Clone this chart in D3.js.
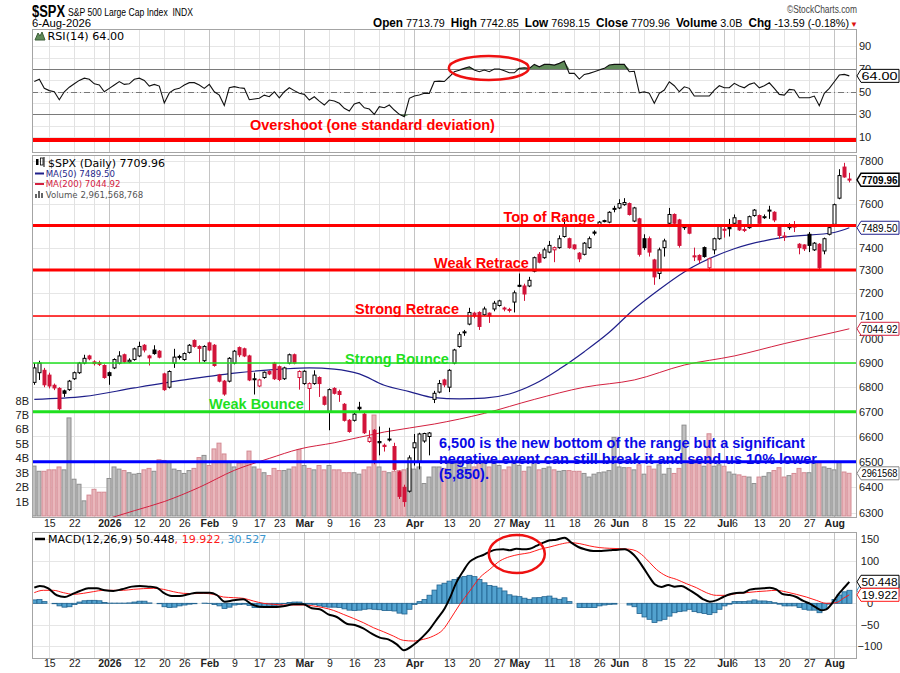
<!DOCTYPE html>
<html>
<head>
<meta charset="utf-8">
<title>$SPX daily</title>
<script src="https://cdn.jsdelivr.net/npm/d3@7/dist/d3.min.js"></script>
<style>
  body { margin: 0; background: #fff; }
  svg { display: block; }
</style>
</head>
<body>
<svg id="chart" width="900" height="673"></svg>
<script>
// ---- data ----
var holidays = ['2025-12-25', '2026-01-01', '2026-01-19', '2026-02-16', '2026-04-03', '2026-05-25', '2026-06-19', '2026-07-03'];

var opens = [6820,6860,6870,6850,6808,6795,6785,6790,6835,6860,
  6900,6930,6905,6902,6890,6860,6880,6900,6935,6905,
  6915,6930,6975,6930,6955,6950,6855,6800,6900,6925,
  6915,6945,6995,6970,6910,6985,6975,6850,6825,6825,
  6900,6965,6960,6930,6832,6805,6840,6865,6900,6885,
  6835,6900,6935,6840,6815,6795,6815,6840,6760,6700,
  6795,6782,6730,6665,6665,6718,6690,6580,6625,6580,
  6565,6588,6560,6460,6400,6385,6555,6500,6582,6600,
  6750,6780,6830,6800,6900,6970,7028,7065,7112,7115,
  7105,7112,7130,7145,7134,7128,7160,7233,7230,7230,
  7295,7370,7355,7380,7390,7400,7450,7440,7412,7375,
  7370,7400,7470,7500,7522,7515,7578,7580,7595,7600,
  7520,7530,7440,7440,7345,7285,7400,7510,7550,7525,
  7497,7495,7363,7365,7400,7310,7390,7440,7483,7497,
  7510,7522,7482,7490,7545,7545,7537,7567,7560,7500,
  7448,7490,7497,7415,7412,7460,7390,7415,7385,7460,
  7505,7625,7770,7713.79];
var highs = [6900,6910,6880,6860,6815,6800,6790,6830,6865,6905,
  6935,6935,6912,6910,6895,6865,6920,6950,6940,6920,
  6965,6990,6980,6935,6975,6955,6860,6870,6960,6935,
  6945,6980,7000,6975,6975,6990,6980,6855,6830,6925,
  6955,6970,6965,6935,6860,6835,6865,6870,6905,6890,
  6885,6940,6940,6870,6870,6820,6870,6845,6765,6795,
  6800,6790,6735,6670,6700,6740,6695,6625,6630,6640,
  6572,6635,6575,6465,6410,6525,6610,6615,6615,6618,
  6785,6830,6835,6875,6960,7030,7040,7135,7118,7120,
  7140,7115,7165,7170,7140,7135,7210,7285,7240,7270,
  7360,7380,7400,7430,7405,7455,7530,7445,7415,7380,
  7425,7450,7478,7520,7526,7565,7590,7620,7625,7605,
  7585,7535,7460,7450,7350,7400,7440,7580,7555,7530,
  7505,7500,7400,7370,7405,7355,7445,7500,7500,7530,
  7550,7525,7495,7545,7575,7550,7550,7590,7565,7505,
  7470,7510,7520,7420,7415,7470,7425,7420,7445,7505,
  7600,7760,7790,7742.85];
var lows = [6810,6830,6800,6795,6788,6705,6760,6785,6830,6855,
  6895,6912,6890,6888,6835,6810,6875,6895,6900,6900,
  6910,6925,6945,6890,6935,6920,6785,6795,6880,6915,
  6910,6940,6965,6900,6905,6950,6885,6820,6765,6820,
  6895,6925,6925,6825,6770,6800,6835,6850,6830,6825,
  6830,6895,6895,6790,6810,6700,6810,6760,6725,6625,
  6770,6740,6660,6615,6660,6700,6610,6575,6490,6525,
  6540,6580,6465,6355,6325,6380,6485,6470,6575,6525,
  6735,6775,6800,6780,6895,6965,7015,7060,7090,7040,
  7100,7070,7120,7140,7120,7115,7115,7225,7165,7225,
  7290,7330,7350,7375,7335,7395,7445,7395,7390,7335,
  7365,7395,7455,7495,7514,7510,7560,7575,7590,7545,
  7515,7360,7390,7360,7235,7260,7360,7505,7505,7400,
  7480,7460,7340,7330,7355,7295,7370,7435,7445,7450,
  7505,7475,7470,7485,7540,7505,7530,7530,7515,7440,
  7430,7480,7470,7370,7385,7380,7385,7305,7370,7455,
  7500,7620,7720,7698.15];
var closes = [6880,6900,6810,6805,6797,6712,6775,6825,6860,6900,
  6920,6918,6898,6895,6840,6848,6915,6930,6905,6912,
  6960,6970,6955,6922,6940,6925,6790,6865,6925,6928,
  6940,6975,6970,6962,6970,6955,6890,6825,6772,6920,
  6950,6935,6930,6830,6835,6830,6862,6855,6835,6832,
  6880,6935,6900,6865,6866,6815,6850,6815,6730,6790,
  6775,6770,6665,6620,6690,6712,6615,6595,6500,6575,
  6560,6590,6470,6365,6345,6515,6575,6610,6612,6614,
  6775,6815,6810,6870,6955,7020,7032,7115,7100,7055,
  7130,7100,7155,7165,7130,7125,7200,7230,7195,7255,
  7355,7335,7390,7410,7400,7440,7500,7400,7395,7350,
  7420,7440,7465,7515,7520,7560,7575,7600,7605,7550,
  7580,7370,7400,7380,7270,7390,7430,7550,7510,7410,
  7490,7465,7360,7345,7360,7350,7440,7495,7480,7485,
  7535,7480,7478,7540,7570,7510,7540,7570,7525,7455,
  7452,7500,7495,7400,7395,7410,7420,7310,7440,7490,
  7595,7730,7723.55,7709.96];
// volume, billions of shares
var volumes = [3.46,3.1,3.1,3.2,3.2,3.4,3.2,6.8,2.55,2.2,
  1.05,1.45,1.85,1.65,1.65,2.6,3.4,3.25,3.15,3.0,
  2.9,2.95,3.2,3.3,3.1,3.9,3.85,3.7,3.25,3.15,
  2.95,3.15,3.3,4.05,4.2,3.5,4.65,5.05,4.3,3.75,
  3.4,3.65,3.7,4.5,3.4,3.25,3.0,2.8,3.3,3.15,
  3.15,3.25,3.4,4.6,3.5,3.3,3.2,3.5,3.2,3.5,
  3.2,3.2,3.0,3.0,3.0,2.9,3.2,3.4,7.0,3.4,
  3.1,3.0,3.1,3.15,3.2,3.3,3.25,3.4,2.25,2.7,
  3.4,3.4,3.3,3.65,3.65,3.75,3.35,3.65,3.4,3.75,
  3.65,3.4,3.65,3.5,3.2,3.4,3.65,3.5,3.1,3.4,
  3.75,3.2,3.3,3.4,3.2,3.1,3.15,3.15,3.1,3.1,
  2.95,2.7,2.9,3.0,3.05,3.15,5.45,3.4,3.35,3.35,
  3.2,3.55,2.9,3.45,3.25,3.55,2.9,3.3,2.95,3.3,
  6.3,3.65,3.9,3.75,3.45,5.7,3.45,3.55,3.45,3.05,
  2.9,2.85,2.75,2.7,2.25,2.7,2.75,3.0,3.15,3.35,
  2.7,2.8,2.95,3.3,3.0,3.0,3.65,3.7,3.4,3.3,
  3.2,3.7,3.05,2.96];
var rsi = [59,61,53,51,50,43,50,54,57,60,
  62,61,57,56,50,53,56,59,56.5,57,
  61,62,60,55,56.5,55,40,49,52,53,
  56,58,58,56,53,56.5,50,47,38,53.5,
  54.5,53.5,53,43,43.6,44.2,47,45.6,50,44.7,
  50,53.5,51,48.6,47.7,42.7,45.6,41.8,38.3,42.7,
  41.8,39.8,35.4,33,39.2,40.6,35.9,34.8,30.1,36.8,
  35.9,38.3,33.9,30.1,28,44.2,46.2,47.1,48.6,48.6,
  59,59.4,59,63.2,67.6,69,70.6,72,69.1,67.6,
  69.1,67.6,70,70,68.5,66.7,66.7,70.6,71.2,70.6,
  74.1,72,74.1,74.1,73.5,75,77,66.2,66.2,61.2,
  65.3,66.2,67.6,69.1,70.6,73.5,74.1,74.1,74.1,67.6,
  68,49.1,50,48.6,39.8,48.6,51.5,58.8,55.3,50,
  54.4,53,46.2,46.2,46.2,46.2,51.5,55.3,53.5,53.5,
  57.4,55,53.5,56.5,57.9,53.5,55.3,57.9,53,47.7,
  47.1,52.1,51.5,44.7,44.7,44.7,46.2,37.7,48.6,53,
  58.8,64.7,65.3,64.0];
var hist = [8,9,4,0,-1,-6,-9,-8,-3,3,
  6,7,7,6,2,0.5,0.5,0.5,0.5,1,
  3,5,5,1,0,-1,-8,-10,-9,-6,
  -4,-2,-1,0,0.5,-0.5,-3,-6,-12,-9,
  -4,-3,-2,-5,-10,-10,-8,-7,-6,-4,
  -1,2,3,3,-1,-2,-3,-6,-8,-9,
  -9,-10,-13,-16,-17,-16,-14,-13,-14,-15,
  -17,-17,-18,-23,-25,-14,-3,4,9,19,
  31,43,47,52,56,60,63,65.6,62.5,56,
  48,42,40,36,29,20,17,15.6,12,9.4,
  13,13.3,15.6,17,12,9.4,13,4,0,-10,
  -10,-10,-10,-6,-4,-2.5,-2,0,0,-4,
  -8,-24,-32,-37.5,-45,-41,-37.5,-30,-22,-19.5,
  -18,-14,-19.5,-22,-24,-26,-22,-14,-6,-2,
  4,4,4,5.5,8,5.5,5.5,4,1.5,-2,
  -6,-6,-6,-10,-14,-16,-16,-22,-14,-2,
  9,19.5,27,30.527];

// moving averages, read at these bar positions
var ma50At = [0,10,20,30,40,50,55,60,65,70,75,80,85,90,95,100,105,110,115,120,125,130,140,150,160,163];
var ma50 = [6750,6762,6797,6830,6858,6876,6880,6875,6855,6808,6782,6757,6752,6755,6772,6813,6875,6948,7030,7130,7215,7292,7395,7447,7468,7489.5];
var ma200At = [14,20,26,33,40,47,53,60,70,80,90,100,110,120,130,140,150,160,163];
var ma200 = [6275,6310,6345,6400,6466,6513,6550,6575,6618,6650,6693,6750,6800,6830,6892,6930,6982,7030,7044.92];

// MACD and signal lines, read at these bar positions
var macdAt = [0,1.1,2.8,4.5,6.1,7.5,9.1,10.8,12.5,14.1,15.8,17.5,19.5,21.1,22.8,24.5,25.8,27.5,29.1,30.8,
  32.5,35.1,36.5,38.1,39.8,41.8,43.5,45.1,46.8,48.5,50.1,51.8,53.8,55.5,57.1,58.8,60.5,62.5,64.1,65.8,
  67.5,69.1,70.8,72.5,73.9,75.8,77.5,78.8,80.5,82.1,83.1,84.4,85.8,87.1,88.4,89.8,91.1,92.4,93.8,95.1,
  96.4,97.8,99.1,100.4,101.8,103.1,104.4,106.1,107.4,108.8,110.1,111.8,113.4,115.1,116.8,118.1,119.4,120.4,121.8,123.1,
  124.1,125.4,126.8,128.1,129.4,130.8,132.4,133.8,135.1,136.4,137.8,139.1,140.4,141.8,143.1,144.4,145.8,147.1,148.4,149.8,
  151.1,152.4,153.8,155.1,156.4,157.4,158.4,159.4,160.8,162.1,163];
var macdVals = [36.7,40.6,35.2,18.8,14.9,21.1,28.9,35.2,35.2,30.5,28.9,32.8,39.1,40.6,39.1,36.7,25,17.2,17.2,21.1,
  25,25,19.5,3.9,7,9.4,-2.3,-7.8,-8.6,-8.6,-6.2,-2.3,-2.3,-11.7,-14.1,-25.8,-32,-47.7,-50.8,-58.6,
  -71.1,-80.5,-84.4,-96.1,-110,-97.7,-80.5,-64.8,-37.5,-11.7,12,48.4,75.8,97.6,107,113.3,121.1,125.8,126.6,124.2,
  128.1,126.6,128.1,134.4,142.2,147.6,149.2,153.9,142.2,132,126.6,122.6,122.6,124.2,125.8,126.6,118.7,107,83.6,60.2,
  44.5,38.3,43,39,40.6,32.8,21.1,9.4,3.9,7,14.8,21.1,24.2,25,32,34.4,35.2,36.7,32.8,21.1,
  19.5,14.8,5.5,-0.8,-10.2,-16.4,-14.1,-2.3,21.1,38.3,50.448];
var sigAt = [0,1.8,3.8,5.8,7.8,9.8,11.8,13.8,17.8,19.8,21.8,23.8,25.8,27.8,29.8,31.8,33.8,35.8,37.8,39.8,
  41.8,43.8,45.8,47.8,49.8,53.8,55.8,57.8,59.8,61.8,63.8,65.8,67.8,69.8,71.8,73.8,75.8,77.8,79.8,81.8,
  83.1,85.1,87.1,89.1,91.1,93.1,95.1,97.1,99.1,101.1,103.1,105.1,107.1,109.1,111.1,113.1,115.1,117.1,119.1,120.4,
  121.8,123.1,124.4,126.4,128.4,130.4,132.4,134.4,136.4,138.4,140.4,142.4,144.4,146.4,148.4,150.4,152.4,154.4,156.4,158.4,
  160.4,161.8,163];
var sigVals = [25,30.5,30.5,25,21.1,23.4,27.3,30.5,30.5,32.8,34.4,35.2,32.8,27.3,23.4,22.7,23.4,21.1,14.8,13.3,
  11.7,5.5,0,-2.3,-3.9,-3.9,-6.2,-10.2,-16.4,-25.8,-35.2,-45.3,-57,-66.4,-76.6,-86.7,-88.3,-84.4,-76.6,-60.9,
  -39,-2.3,28.9,60.2,79.7,99.2,109.4,114.8,118.7,126.6,132,138.3,142.2,139.8,134.4,130.5,128.9,128.1,126.6,122.6,
  110.9,95.3,79.7,64.1,56.2,46.1,36.7,25,18.7,18.7,22.7,25,27.3,28.9,30.5,26.6,21.1,14.8,7,0,
  1.6,11.7,19.922];

// date axis
var tickDates = ['2025-12-15','2025-12-22','2025-12-29','2026-01-02','2026-01-12','2026-01-20','2026-01-26',
  '2026-02-02','2026-02-09','2026-02-17','2026-02-23','2026-03-02','2026-03-09','2026-03-16','2026-03-23','2026-03-30',
  '2026-04-01','2026-04-13','2026-04-20','2026-04-27','2026-05-01','2026-05-11','2026-05-18','2026-05-26',
  '2026-06-01','2026-06-08','2026-06-15','2026-06-22','2026-06-29','2026-07-01','2026-07-06','2026-07-13',
  '2026-07-20','2026-07-27','2026-08-03'];
var tickLabels = ['15','22','','2026','12','20','26','Feb','9','17','23','Mar','9','16','23','',
  'Apr','13','20','27','May','11','18','26','Jun','8','15','22','','Jul','6','13','20','27','Aug'];

var priceGrid = [6300,6400,6500,6600,6700,6800,6900,7000,7100,7200,7300,7400,7500,7600,7700,7800];
var priceLabels = [6300,6400,6500,6600,6700,6800,6900,7000,7100,7200,7300,7400,7600,7800];
var volTicks = [1,2,3,4,5,6,7,8];
var rsiTicks = [10,30,50,70,90];
var macdGrid = [-100,-50,0,50,100,150];
var macdLabels = [-100,-50,0,100,150];

// hand-drawn levels on the chart
var levelPrices = [7500, 7300, 7100, 6900, 6700, 6500];
var overshootRsi = 7.5;

// ---- layout ----
var svg = d3.select('#chart');
var AR = '"Liberation Sans", Arial, sans-serif';
var DV = '"DejaVu Sans", Verdana, sans-serif';
var L = 32, R = 857;
var panes = { rsi: [29, 152], main: [155, 517], macd: [532, 658] };
var RED = '#d2143a';

var x = d3.scaleLinear().domain([-0.5, 164.5]).range([31.8, 856.8]);
var yP = d3.scaleLog().domain([6300, 7800]).range([513.3, 160.7]);
var yV = d3.scaleLinear().domain([0, 8]).range([516, 400.6]);
var yR = d3.scaleLinear().domain([0, 100]).range([148.5, 35]);
var yM = d3.scaleLinear().domain([-100, 150]).range([646, 539.3]);
function px(j) { return Math.round(x(j)) + 0.5; }
function py(v) { return Math.round(v) + 0.5; }

var fmt = d3.utcFormat('%Y-%m-%d');
var days = [];
for (var t = Date.UTC(2025, 11, 10); days.length < closes.length; t += 864e5) {
  var dd = new Date(t), wd = dd.getUTCDay();
  if (wd === 0 || wd === 6 || holidays.indexOf(fmt(dd)) >= 0) continue;
  days.push(fmt(dd));
}
var ticks = tickDates.map(function (d, i) {
  var lab = tickLabels[i];
  return { j: days.indexOf(d), label: lab, major: lab === '2026' || (lab !== '' && isNaN(+lab)) };
});

var defs = svg.append('defs');
Object.keys(panes).forEach(function (k) {
  defs.append('clipPath').attr('id', 'clip-' + k).append('rect')
    .attr('x', L).attr('y', panes[k][0]).attr('width', R - L).attr('height', panes[k][1] - panes[k][0]);
});

svg.append('rect').attr('width', 900).attr('height', 673).attr('fill', '#fff');

// grids
function paneGrid(key, hvals, ys) {
  var g = svg.append('g');
  g.selectAll('line.h').data(hvals).enter().append('line')
    .attr('x1', L).attr('x2', R)
    .attr('y1', function (d) { return py(ys(d)); }).attr('y2', function (d) { return py(ys(d)); })
    .attr('stroke', '#e6e6e6');
  g.selectAll('line.v').data(ticks).enter().append('line')
    .attr('x1', function (d) { return px(d.j); }).attr('x2', function (d) { return px(d.j); })
    .attr('y1', panes[key][0]).attr('y2', panes[key][1])
    .attr('stroke', function (d) { return d.major ? '#c4c4c4' : '#e2e2e2'; });
  return g;
}
paneGrid('rsi', d3.range(10, 100, 10), yR);
paneGrid('main', priceGrid, yP);
paneGrid('macd', macdGrid, yM);

// ---- RSI pane ----
var gR = svg.append('g').attr('clip-path', 'url(#clip-rsi)');
[70, 30].forEach(function (v) {
  gR.append('line').attr('x1', L).attr('x2', R).attr('y1', py(yR(v))).attr('y2', py(yR(v)))
    .attr('stroke', '#7a7a7a');
});
gR.append('line').attr('x1', L).attr('x2', R).attr('y1', py(yR(50))).attr('y2', py(yR(50)))
  .attr('stroke', '#777').attr('stroke-dasharray', '6,3,1,3');
gR.append('path').datum(rsi)
  .attr('d', d3.area().x(function (d, i) { return x(i); })
    .y0(yR(70)).y1(function (d) { return yR(Math.max(d, 70)); }))
  .attr('fill', '#5f8a58');
gR.append('path').datum(rsi)
  .attr('d', d3.area().x(function (d, i) { return x(i); })
    .y0(yR(30)).y1(function (d) { return yR(Math.min(d, 30)); }))
  .attr('fill', '#5f8a58');
gR.append('path').datum(rsi)
  .attr('d', d3.line().x(function (d, i) { return x(i); }).y(function (d) { return yR(d); }))
  .attr('fill', 'none').attr('stroke', '#111').attr('stroke-width', 1.1);
gR.append('line').attr('x1', L).attr('x2', R)
  .attr('y1', yR(overshootRsi)).attr('y2', yR(overshootRsi))
  .attr('stroke', '#ff0000').attr('stroke-width', 4);
gR.append('ellipse').attr('cx', x(90.9)).attr('cy', yR(70.9)).attr('rx', 40).attr('ry', 12)
  .attr('fill', 'none').attr('stroke', '#ee1111').attr('stroke-width', 2.5);

// ---- price pane ----
var gP = svg.append('g').attr('clip-path', 'url(#clip-main)');
var upDay = closes.map(function (c, i) { return i === 0 ? true : c >= closes[i - 1]; });

gP.selectAll('rect.vol').data(volumes).enter().append('rect')
  .attr('x', function (d, i) { return Math.round(x(i)) - 2; })
  .attr('width', 4)
  .attr('y', function (d) { return yV(d); })
  .attr('height', function (d) { return yV(0) - yV(d); })
  .attr('fill', function (d, i) { return upDay[i] ? '#c0c0c0' : '#e9b7bc'; })
  .attr('stroke', function (d, i) { return upDay[i] ? '#8e8e8e' : '#d48a93'; })
  .attr('stroke-width', 1);

function maLine(at, vals, color, w) {
  gP.append('path').datum(at.map(function (j, i) { return [j, vals[i]]; }))
    .attr('d', d3.line().curve(d3.curveMonotoneX)
      .x(function (d) { return x(d[0]); }).y(function (d) { return yP(d[1]); }))
    .attr('fill', 'none').attr('stroke', color).attr('stroke-width', w);
}
maLine(ma200At, ma200, '#d3203f', 1);
maLine(ma50At, ma50, '#1f1f8a', 1.2);

var candle = gP.selectAll('g.c').data(closes).enter().append('g');
candle.append('line')
  .attr('x1', function (d, i) { return px(i); }).attr('x2', function (d, i) { return px(i); })
  .attr('y1', function (d, i) { return yP(highs[i]); }).attr('y2', function (d, i) { return yP(lows[i]); })
  .attr('stroke', function (d, i) { return upDay[i] ? '#000' : RED; });
candle.append('rect')
  .attr('x', function (d, i) { return Math.round(x(i)) - 1; })
  .attr('width', 3)
  .attr('y', function (d, i) { return yP(Math.max(opens[i], d)); })
  .attr('height', function (d, i) { return Math.max(1, yP(Math.min(opens[i], d)) - yP(Math.max(opens[i], d))); })
  .attr('fill', function (d, i) { return d >= opens[i] ? '#fff' : (upDay[i] ? '#000' : RED); })
  .attr('stroke', function (d, i) { return upDay[i] ? '#000' : RED; })
  .attr('stroke-width', 1);

var levelColor = ['#ff0000', '#ff0000', '#ff0000', '#1fe01f', '#1fe01f', '#0000ff'];
var levelWidth = [3, 3, 1.5, 1.5, 3, 3];
gP.selectAll('line.lvl').data(levelPrices).enter().append('line')
  .attr('x1', L).attr('x2', R)
  .attr('y1', function (d) { return yP(d); }).attr('y2', function (d) { return yP(d); })
  .attr('stroke', function (d, i) { return levelColor[i]; })
  .attr('stroke-width', function (d, i) { return levelWidth[i]; });

// ---- MACD pane ----
var gM = svg.append('g').attr('clip-path', 'url(#clip-macd)');
gM.selectAll('rect.h').data(hist).enter().append('rect')
  .attr('x', function (d, i) { return Math.round(x(i)) - 2; })
  .attr('width', 5)
  .attr('y', function (d) { return yM(Math.max(d, 0)); })
  .attr('height', function (d) { return Math.abs(yM(d) - yM(0)); })
  .attr('fill', '#52a2cf').attr('stroke', '#22638f').attr('stroke-width', 0.8);
function macdPath(at, vals, color, w) {
  gM.append('path').datum(at.map(function (j, i) { return [j, vals[i]]; }))
    .attr('d', d3.line().curve(d3.curveMonotoneX)
      .x(function (d) { return x(d[0]); }).y(function (d) { return yM(d[1]); }))
    .attr('fill', 'none').attr('stroke', color).attr('stroke-width', w);
}
macdPath(sigAt, sigVals, '#ff1a1a', 1);
macdPath(macdAt, macdVals, '#000', 2);
gM.append('ellipse').attr('cx', x(96.5)).attr('cy', yM(115.6)).attr('rx', 28).attr('ry', 19)
  .attr('fill', 'none').attr('stroke', '#ee1111').attr('stroke-width', 2.5);

// frames
Object.keys(panes).forEach(function (k) {
  svg.append('rect').attr('x', L + 0.5).attr('y', panes[k][0] + 0.5)
    .attr('width', R - L - 1).attr('height', panes[k][1] - panes[k][0])
    .attr('fill', 'none').attr('stroke', '#a4a4a4');
});

// ---- axes ----
function styleAxis(g, size) {
  g.select('.domain').remove();
  g.attr('font-family', AR).attr('font-size', size);
  g.selectAll('text').attr('fill', '#222');
  return g;
}
styleAxis(svg.append('g').attr('transform', 'translate(' + R + ',0)')
  .call(d3.axisRight(yP).tickValues(priceLabels).tickFormat(d3.format('d')).tickSize(0).tickPadding(2)), 11);
styleAxis(svg.append('g').attr('transform', 'translate(' + R + ',0)')
  .call(d3.axisRight(yR).tickValues(rsiTicks).tickSize(0).tickPadding(2)), 11);
var mAx = styleAxis(svg.append('g').attr('transform', 'translate(' + R + ',0)')
  .call(d3.axisRight(yM).tickValues(macdLabels).tickSize(0).tickPadding(13)), 11);
mAx.selectAll('text').attr('text-anchor', 'middle');
styleAxis(svg.append('g').attr('transform', 'translate(' + L + ',0)')
  .call(d3.axisLeft(yV).tickValues(volTicks).tickFormat(function (d) { return d + 'B'; }).tickSize(0).tickPadding(3)), 11);

var labelled = ticks.filter(function (d) { return d.label !== ''; });
function dateAxis(yPos, pad) {
  var g = svg.append('g').attr('transform', 'translate(0,' + yPos + ')')
    .call(d3.axisBottom(x).tickValues(labelled.map(function (d) { return d.j; }))
      .tickFormat(function (d, i) { return labelled[i].label; }).tickSize(0).tickPadding(pad));
  styleAxis(g, 10.5);
  g.selectAll('text').attr('font-weight', function (d, i) { return labelled[i].major ? 'bold' : 'normal'; });
}
dateAxis(panes.main[1], 3);
dateAxis(panes.macd[1], 1.5);

// ---- value tags on the right edge ----
function tag(cy, txt, border, bold, sw) {
  var g = svg.append('g');
  g.append('path')
    .attr('d', 'M857,' + cy + 'L861,' + (cy - 6.5) + 'H899V' + (cy + 6.5) + 'H861Z')
    .attr('fill', '#fff').attr('stroke', border).attr('stroke-width', sw || 1);
  g.append('text').attr('x', 861.5).attr('y', cy + 4).text(txt)
    .attr('font-family', AR).attr('font-size', 10.5).attr('fill', '#000')
    .attr('font-weight', bold ? 'bold' : 'normal')
    .attr('textLength', 36).attr('lengthAdjust', 'spacingAndGlyphs');
}
tag(yR(rsi[rsi.length - 1]), '64.00', '#000');
tag(yP(closes[closes.length - 1]), '7709.96', '#000', true, 1.5);
tag(yP(ma50[ma50.length - 1]), '7489.50', '#1f1f8a');
tag(yP(ma200[ma200.length - 1]), '7044.92', '#d3203f');
tag(yV(volumes[volumes.length - 1]), '2961568', '#888');
tag(yM(hist[hist.length - 1]), '30.527', '#3d8fc4');
tag(yM(macdVals[macdVals.length - 1]), '50.448', '#000');
tag(yM(sigVals[sigVals.length - 1]), '19.922', '#ff1a1a');

// ---- legends ----
function txt(xp, yp, s, size, color, fam, weight) {
  return svg.append('text').attr('x', xp).attr('y', yp).text(s)
    .attr('font-size', size).attr('fill', color || '#000')
    .attr('font-family', fam || DV).attr('font-weight', weight || 'normal');
}
// RSI legend
svg.append('path').attr('d', 'M35,40L38,33L40,36L42,32L45,40Z').attr('fill', '#5f8a58').attr('stroke', '#3b5d37');
txt(47.5, 39.8, 'RSI(14) 64.00', 11.2);
// price legend
svg.append('rect').attr('x', 36).attr('y', 159).attr('width', 2.5).attr('height', 6).attr('fill', '#000');
svg.append('rect').attr('x', 40.5).attr('y', 158).attr('width', 2.5).attr('height', 7).attr('fill', 'none').attr('stroke', '#000').attr('stroke-width', 0.8);
svg.append('line').attr('x1', 44).attr('x2', 44).attr('y1', 157).attr('y2', 167).attr('stroke', '#000');
txt(48, 166.5, '$SPX (Daily) 7709.96', 11);
svg.append('line').attr('x1', 35).attr('x2', 44).attr('y1', 173.5).attr('y2', 173.5).attr('stroke', '#1f1f8a').attr('stroke-width', 2);
txt(45.7, 176.6, 'MA(50) 7489.50', 8.6, '#1f1f8a');
svg.append('line').attr('x1', 35).attr('x2', 44).attr('y1', 184).attr('y2', 184).attr('stroke', '#d3203f').attr('stroke-width', 2);
txt(45.7, 187.2, 'MA(200) 7044.92', 8.6, '#d3203f');
[[35, 4], [38, 7], [41, 5]].forEach(function (b) {
  svg.append('rect').attr('x', b[0]).attr('y', 198 - b[1]).attr('width', 2).attr('height', b[1]).attr('fill', '#666');
});
txt(45.7, 197.9, 'Volume 2,961,568,768', 8.6, '#555');
// MACD legend
svg.append('line').attr('x1', 35).attr('x2', 45).attr('y1', 539).attr('y2', 539).attr('stroke', '#000').attr('stroke-width', 2.5);
var ml = txt(48, 543, '', 11.1);
ml.append('tspan').text('MACD(12,26,9) 50.448');
ml.append('tspan').attr('fill', '#ff1a1a').text(', 19.922');
ml.append('tspan').attr('fill', '#3d97cf').text(', 30.527');

// ---- header ----
function fit(sel, w) { sel.attr('textLength', w).attr('lengthAdjust', 'spacingAndGlyphs'); return sel; }
fit(txt(32, 16.5, '$SPX', 16, '#000', AR, 'bold'), 33);
fit(txt(68, 16, 'S&P 500 Large Cap Index  INDX', 11, '#000', AR).attr('xml:space', 'preserve'), 125);
fit(txt(32, 27, '6-Aug-2026', 11, '#000', AR), 59);
fit(txt(857, 13, '\u00a9StockCharts.com', 11, '#444', AR).attr('text-anchor', 'end'), 70);
var hdr = txt(373, 27, '', 11, '#000', AR).attr('xml:space', 'preserve');
[['Open', 1], [' 7713.79  ', 0], ['High', 1], [' 7742.85  ', 0], ['Low', 1], [' 7698.15  ', 0],
 ['Close', 1], [' 7709.96  ', 0], ['Volume', 1], [' 3.0B  ', 0], ['Chg', 1], [' -13.59 (-0.18%)', 0]]
  .forEach(function (p) {
    hdr.append('tspan').attr('font-weight', p[1] ? 'bold' : 'normal').attr('font-size', p[1] ? 12 : 11).text(p[0]);
  });
fit(hdr, 476);
txt(850, 26.5, '\u25bc', 8, '#dd1111', AR);

// ---- annotations ----
function note(xp, yp, s, color, anchor) {
  return svg.append('text').attr('x', xp).attr('y', yp).text(s)
    .attr('font-family', AR).attr('font-weight', 'bold').attr('font-size', 14.5)
    .attr('fill', color).attr('text-anchor', anchor || 'start');
}
note(250, 129.5, 'Overshoot (one standard deviation)', '#ff0000');
note(595, yP(7500) - 3.5, 'Top of Range', '#ff0000', 'end');
note(434, yP(7300) - 2.5, 'Weak Retrace', '#ff0000');
note(355, yP(7100) - 1.5, 'Strong Retrace', '#ff0000');
note(345, yP(6900) + 0.5, 'Strong Bounce', '#1fe01f');
note(209, yP(6700) - 2.3, 'Weak Bounce', '#1fe01f');
note(439, 448.3, '6,500 is the new bottom of the range but a significant', '#0a0ae6');
note(439, 463.7, 'negative event can still break it and send us 10% lower', '#0a0ae6');
note(439, 479, '(5,850).', '#0a0ae6');
</script>
</body>
</html>
